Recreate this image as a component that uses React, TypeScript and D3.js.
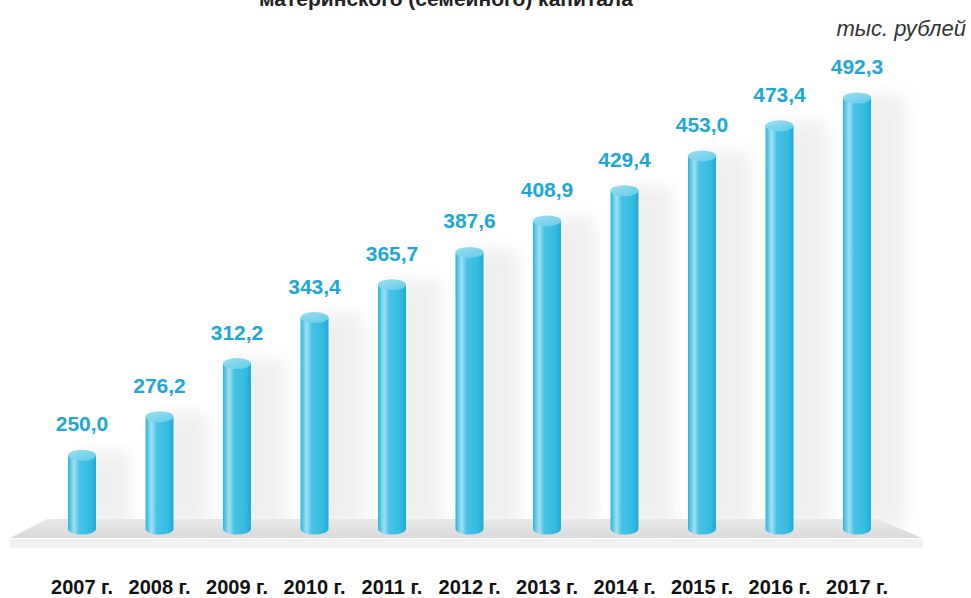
import React from "react";
import * as d3 from "d3";

const years = ["2007 г.", "2008 г.", "2009 г.", "2010 г.", "2011 г.", "2012 г.", "2013 г.", "2014 г.", "2015 г.", "2016 г.", "2017 г."];
const values = [250.0, 276.2, 312.2, 343.4, 365.7, 387.6, 408.9, 429.4, 453.0, 473.4, 492.3];
const labels = ["250,0", "276,2", "312,2", "343,4", "365,7", "387,6", "408,9", "429,4", "453,0", "473,4", "492,3"];

const W = 971, H = 598;

export default function App() {
  const x = d3.scalePoint<string>().domain(years).range([82, 857]);
  const y = d3.scaleLinear().domain([200, 492.3]).range([529, 98]);
  const bw = 28, ry = 5.5;
  const blue = "#1ba8d8";
  return (
    <svg width={W} height={H} style={{ position: "absolute", left: 0, top: 0, background: "#fff" }}
      fontFamily="'Liberation Sans', Arial, sans-serif">
      <defs>
        <linearGradient id="cyl" x1="0" x2="1" y1="0" y2="0">
          <stop offset="0" stopColor="#2db5dc" />
          <stop offset="0.22" stopColor="#a2e0f2" />
          <stop offset="0.4" stopColor="#49c2e5" />
          <stop offset="0.8" stopColor="#34bbe1" />
          <stop offset="1" stopColor="#22aad6" />
        </linearGradient>
        <linearGradient id="topg" x1="0" x2="1" y1="0" y2="1">
          <stop offset="0" stopColor="#9ddff2" />
          <stop offset="1" stopColor="#62cbe8" />
        </linearGradient>
        <linearGradient id="floor" x1="0" x2="0" y1="0" y2="1">
          <stop offset="0" stopColor="#e9e9e9" />
          <stop offset="1" stopColor="#dadada" />
        </linearGradient>
        <filter id="blur" x="-50%" y="-10%" width="200%" height="120%">
          <feGaussianBlur stdDeviation="9" />
        </filter>
      </defs>
      <text x={446} y={6} textAnchor="middle" fontWeight="bold" fontSize={21} fill="#222">
        материнского (семейного) капитала
      </text>
      <text x={966} y={36} textAnchor="end" fontStyle="italic" fontSize={22} fill="#333">
        тыс. рублей
      </text>
      {/* shadows */}
      {years.map((yr, i) => (
        <rect key={"s" + i} x={x(yr)! - 4} y={y(values[i]) - 4} width={bw + 24} height={529 - y(values[i]) + 2}
          fill="#e2e2e2" opacity={0.55} filter="url(#blur)" />
      ))}
      {/* floor */}
      <polygon points="47,519 878,519 922,538 10,538" fill="url(#floor)" />
      <rect x={10} y={539} width={913} height={9} fill="#f2f2f2" />
      {years.map((yr, i) => {
        const cx = x(yr)!;
        const top = y(values[i]);
        const bot = y(200);
        return (
          <g key={yr}>
            <path d={`M${cx - bw / 2},${top} L${cx - bw / 2},${bot} A${bw / 2},${ry} 0 0 0 ${cx + bw / 2},${bot} L${cx + bw / 2},${top} Z`}
              fill="url(#cyl)" />
            <ellipse cx={cx} cy={top} rx={bw / 2} ry={ry} fill="url(#topg)" />
            <text x={cx} y={top - 24} textAnchor="middle" fontWeight="bold" fontSize={21} fill={blue}>{labels[i]}</text>
            <text x={cx} y={594} textAnchor="middle" fontWeight="bold" fontSize={20} fill="#111">{yr}</text>
          </g>
        );
      })}
    </svg>
  );
}
